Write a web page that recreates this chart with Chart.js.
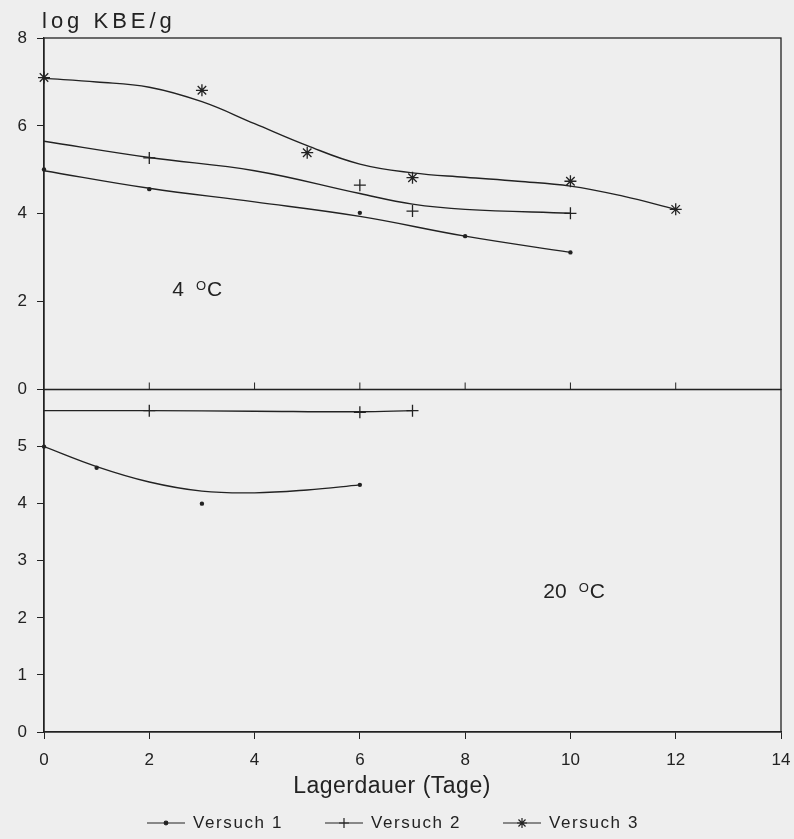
<!DOCTYPE html>
<html lang="de">
<head>
    <meta charset="UTF-8">
    <title>Keimzahl während der Lagerung bei 4 °C und 20 °C</title>
    <style>
        body {
            margin: 0;
            background-color: #eeeeee;
        }
        #kbeChart {
            display: block;
        }
    </style>
</head>
<body>
    <canvas id="kbeChart" width="794" height="839"></canvas>

    <script src="https://cdn.jsdelivr.net/npm/chart.js"></script>
    <script>
        const seriesNames = ['Versuch 1', 'Versuch 2', 'Versuch 3'];
        const yTitle = 'log KBE/g';
        const xTitle = 'Lagerdauer (Tage)';
        const panelLabels = ['4', '20'];

        // 4 °C - Messpunkte
        const days4V1 = [0, 2, 6, 8, 10];
        const kbe4V1 = [5.01, 4.56, 4.02, 3.49, 3.12];
        const days4V2 = [2, 6, 7, 10];
        const kbe4V2 = [5.27, 4.65, 4.06, 4.01];
        const days4V3 = [0, 3, 5, 7, 10, 12];
        const kbe4V3 = [7.1, 6.81, 5.39, 4.82, 4.74, 4.1];

        // 4 °C - Ausgleichskurven
        const fitDays4V1 = [0, 2, 4, 6, 8, 10];
        const fit4V1 = [4.98, 4.58, 4.27, 3.94, 3.49, 3.12];
        const fitDays4V2 = [0, 2, 4, 6, 7, 8, 10];
        const fit4V2 = [5.65, 5.28, 4.98, 4.46, 4.22, 4.1, 4.01];
        const fitDays4V3 = [0, 1, 2, 3, 4, 5, 6, 7, 8, 9, 10, 11, 12];
        const fit4V3 = [7.08, 7.0, 6.88, 6.55, 6.05, 5.55, 5.13, 4.93, 4.83, 4.74, 4.63, 4.4, 4.1];

        // 20 °C - Messpunkte
        const days20V1 = [0, 1, 3, 6];
        const kbe20V1 = [5.0, 4.63, 4.0, 4.33];
        const days20V2 = [2, 6, 7];
        const kbe20V2 = [5.63, 5.6, 5.63];

        // 20 °C - Ausgleichskurven
        const fitDays20V1 = [0, 1, 2, 3, 4, 5, 6];
        const fit20V1 = [5.0, 4.65, 4.38, 4.22, 4.19, 4.24, 4.33];
        const fitDays20V2 = [0, 2, 4, 6, 7];
        const fit20V2 = [5.63, 5.63, 5.62, 5.61, 5.63];

        const INK = '#222222';
        const FONT = "'Liberation Sans', Arial, sans-serif";

        const markers = [
            { pointStyle: 'circle', radius: 2.2 },
            { pointStyle: 'cross', radius: 6 },
            { pointStyle: 'star', radius: 6 }
        ];

        function pts(xs, ys) {
            return xs.map((x, i) => ({ x: x, y: ys[i] }));
        }

        function curve(xs, ys, axis) {
            return {
                data: pts(xs, ys),
                yAxisID: axis,
                showLine: true,
                pointRadius: 0,
                borderColor: INK,
                borderWidth: 1.4,
                tension: 0.4,
                fill: false
            };
        }

        function marks(xs, ys, axis, series) {
            const m = markers[series];
            return {
                label: seriesNames[series],
                data: pts(xs, ys),
                yAxisID: axis,
                showLine: false,
                pointStyle: m.pointStyle,
                pointRadius: m.radius,
                borderColor: INK,
                backgroundColor: INK,
                borderWidth: series === 0 ? 0 : 1.3,
                clip: false
            };
        }

        // Rahmen um beide Felder + innere Teilstriche am unteren Rand des 4 °C-Feldes
        const framePlugin = {
            id: 'panelFrames',
            afterDraw(chart) {
                const { ctx, chartArea } = chart;
                const { x, yTop, yBot } = chart.scales;
                ctx.save();
                ctx.strokeStyle = INK;
                ctx.lineWidth = 1.3;
                ctx.strokeRect(chartArea.left, yTop.top, chartArea.right - chartArea.left, yTop.bottom - yTop.top);
                ctx.strokeRect(chartArea.left, yBot.top, chartArea.right - chartArea.left, yBot.bottom - yBot.top);
                ctx.lineWidth = 1;
                x.ticks.forEach(t => {
                    if (t.value === x.min || t.value === x.max) return;
                    const px = x.getPixelForValue(t.value);
                    ctx.beginPath();
                    ctx.moveTo(px, yTop.bottom);
                    ctx.lineTo(px, yTop.bottom - 7);
                    ctx.stroke();
                });
                ctx.restore();
            }
        };

        function drawTempLabel(ctx, num, cx, baseline) {
            ctx.font = '21px ' + FONT;
            const wNum = ctx.measureText(num).width;
            const wC = ctx.measureText('C').width;
            ctx.font = '13px ' + FONT;
            const wO = ctx.measureText('O').width;
            const gap = 12;
            const total = wNum + gap + wO + 1 + wC;
            let x = cx - total / 2;
            ctx.font = '21px ' + FONT;
            ctx.fillText(num, x, baseline);
            x += wNum + gap;
            ctx.font = '13px ' + FONT;
            ctx.fillText('O', x, baseline - 6);
            x += wO + 1;
            ctx.font = '21px ' + FONT;
            ctx.fillText('C', x, baseline);
        }

        // Beschriftungen: Achsentitel, Temperaturen, Legende
        const textPlugin = {
            id: 'texts',
            afterDraw(chart) {
                const { ctx, chartArea } = chart;
                const { x, yTop, yBot } = chart.scales;
                ctx.save();
                ctx.fillStyle = INK;
                ctx.strokeStyle = INK;

                ctx.textBaseline = 'alphabetic';
                ctx.textAlign = 'left';
                ctx.font = '22px ' + FONT;
                ctx.letterSpacing = '4px';
                ctx.fillText(yTitle, chartArea.left - 2, 28);

                ctx.letterSpacing = '0.5px';
                ctx.textAlign = 'center';
                ctx.textBaseline = 'middle';
                ctx.font = '23px ' + FONT;
                ctx.fillText(xTitle, chart.width / 2 - 5, x.bottom - 13);

                ctx.textAlign = 'left';
                ctx.textBaseline = 'alphabetic';
                ctx.letterSpacing = '0px';
                drawTempLabel(ctx, panelLabels[0], x.getPixelForValue(2.91), yTop.getPixelForValue(2.13));
                drawTempLabel(ctx, panelLabels[1], x.getPixelForValue(10.07), yBot.getPixelForValue(2.35));

                // Legende
                ctx.font = '17px ' + FONT;
                ctx.letterSpacing = '1.6px';
                ctx.textBaseline = 'middle';
                const lineW = 38, gap = 8, itemGap = 42, ly = 823;
                const widths = seriesNames.map(n => ctx.measureText(n).width);
                const total = widths.reduce((a, w) => a + lineW + gap + w, 0) + itemGap * (seriesNames.length - 1);
                let lx = chart.width / 2 - 4 - total / 2;
                seriesNames.forEach((name, i) => {
                    ctx.lineWidth = 1.2;
                    ctx.beginPath();
                    ctx.moveTo(lx, ly);
                    ctx.lineTo(lx + lineW, ly);
                    ctx.stroke();
                    Chart.helpers.drawPoint(ctx, {
                        pointStyle: markers[i].pointStyle,
                        radius: markers[i].pointStyle === 'circle' ? 1.8 : 5,
                        borderWidth: 1.2,
                        rotation: 0
                    }, lx + lineW / 2, ly);
                    ctx.fillText(name, lx + lineW + gap, ly);
                    lx += lineW + gap + widths[i] + itemGap;
                });
                ctx.restore();
            }
        };

        const axisLook = {
            grid: { drawOnChartArea: false, drawTicks: true, tickLength: 7, color: INK, lineWidth: 1 },
            border: { display: true, color: INK, width: 1.3 }
        };

        new Chart(document.getElementById('kbeChart'), {
            type: 'scatter',
            data: {
                datasets: [
                    curve(fitDays4V1, fit4V1, 'yTop'),
                    curve(fitDays4V2, fit4V2, 'yTop'),
                    curve(fitDays4V3, fit4V3, 'yTop'),
                    marks(days4V1, kbe4V1, 'yTop', 0),
                    marks(days4V2, kbe4V2, 'yTop', 1),
                    marks(days4V3, kbe4V3, 'yTop', 2),
                    curve(fitDays20V1, fit20V1, 'yBot'),
                    curve(fitDays20V2, fit20V2, 'yBot'),
                    marks(days20V1, kbe20V1, 'yBot', 0),
                    marks(days20V2, kbe20V2, 'yBot', 1)
                ]
            },
            options: {
                responsive: false,
                animation: false,
                events: [],
                layout: { padding: { top: 38, right: 13, bottom: 39, left: 0 } },
                plugins: {
                    legend: { display: false },
                    tooltip: { enabled: false },
                    title: { display: false }
                },
                scales: {
                    x: {
                        type: 'linear',
                        position: 'bottom',
                        min: 0,
                        max: 14,
                        ticks: { stepSize: 2, padding: 11, color: INK, font: { family: FONT, size: 17 } },
                        ...axisLook,
                        afterFit: s => {
                            s.height = 68;
                            s.paddingLeft = 0;
                            s.paddingRight = 0;
                        }
                    },
                    yTop: {
                        type: 'linear',
                        position: 'left',
                        stack: 'panels',
                        stackWeight: 351,
                        weight: 2,
                        min: 0,
                        max: 8,
                        ticks: { stepSize: 2, padding: 10, color: INK, font: { family: FONT, size: 17 } },
                        ...axisLook,
                        afterFit: s => { s.width = 44; }
                    },
                    yBot: {
                        type: 'linear',
                        position: 'left',
                        stack: 'panels',
                        stackWeight: 342,
                        weight: 1,
                        min: 0,
                        max: 6,
                        ticks: {
                            stepSize: 1,
                            padding: 10,
                            color: INK,
                            font: { family: FONT, size: 17 },
                            callback: v => (v === 6 ? '' : v)
                        },
                        ...axisLook,
                        afterFit: s => { s.width = 44; }
                    }
                }
            },
            plugins: [framePlugin, textPlugin]
        });
    </script>
</body>
</html>
